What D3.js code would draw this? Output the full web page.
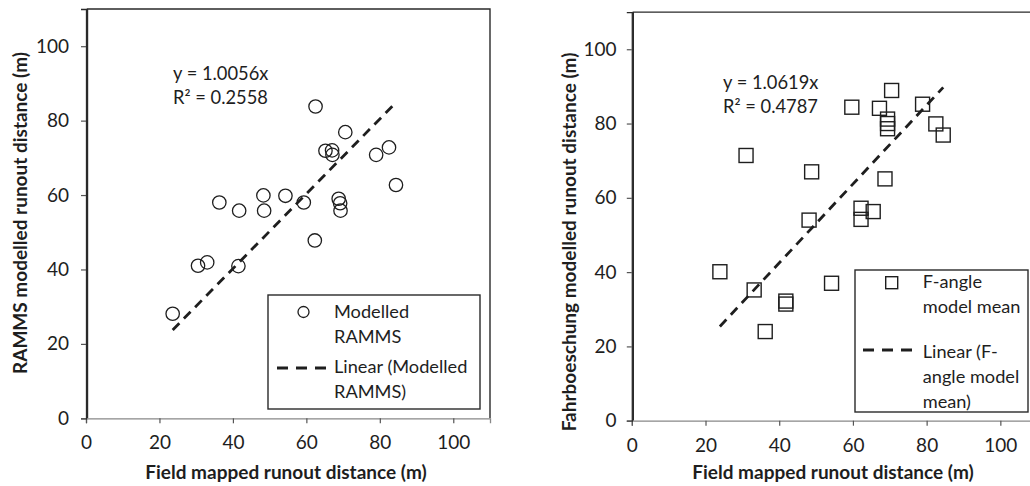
<!DOCTYPE html>
<html>
<head>
<meta charset="utf-8">
<script src="https://cdn.jsdelivr.net/npm/d3@7"></script>
<style>
  body { margin: 0; background: #fff; }
  svg text { font-family: Lato, "Open Sans", sans-serif; fill: #1e1e1e; }
  .tick text { font-size: 19px; }
  .tick line { stroke: #555; stroke-width: 1.2; }
</style>
</head>
<body>
<svg id="chart" width="1030" height="486"></svg>
<script>
// shared axis ticks
const tickValues = [0, 20, 40, 60, 80, 100];

// left panel: RAMMS vs field mapped
const rammsField = [23.6, 30.5, 33.0, 36.3, 41.7, 41.5, 48.3, 48.5, 54.3, 59.3, 62.5, 62.3, 65.2, 67.0, 67.1, 70.6, 68.8, 69.2, 69.3, 79.0, 82.5, 84.4];
const rammsModel = [28.1, 41.0, 41.9, 58.0, 55.8, 40.9, 59.9, 55.8, 59.8, 58.0, 83.8, 47.8, 71.9, 72.0, 70.8, 76.9, 59.0, 57.8, 55.8, 70.8, 72.8, 62.7];
const rammsSlope = 1.0056;
const rammsEq = ["y = 1.0056x", "R² = 0.2558"];
const rammsLegend = [["Modelled", "RAMMS"], ["Linear (Modelled", "RAMMS)"]];

// right panel: Fahrboeschung (F-angle) vs field mapped
const fangleField = [23.9, 31.0, 33.2, 36.2, 41.8, 41.8, 48.1, 48.8, 54.2, 59.7, 62.2, 62.2, 65.5, 67.2, 68.7, 69.4, 69.4, 69.4, 70.5, 78.9, 82.5, 84.5];
const fangleModel = [40.1, 71.4, 35.2, 24.0, 32.2, 31.4, 54.0, 67.0, 37.0, 84.4, 57.2, 54.2, 56.3, 84.1, 65.1, 81.2, 80.0, 78.6, 88.9, 85.2, 79.9, 76.9];
const fangleSlope = 1.0619;
const fangleEq = ["y = 1.0619x", "R² = 0.4787"];
const fangleLegend = [["F-angle", "model mean"], ["Linear (F-", "angle model", "mean)"]];

const xTitle = "Field mapped runout distance (m)";

const svg = d3.select("#chart");

function drawPanel(p) {
  const x = d3.scaleLinear().domain([0, 110]).range(p.xRange);
  const y = d3.scaleLinear().domain([0, 110]).range(p.yRange);
  const g = svg.append("g");

  // frame (left, top, right)
  g.append("path")
    .attr("d", `M${x(0) + 1.5},${y(0)}V${y(110)}H${x(110)}V${y(0)}`)
    .attr("fill", "none").attr("stroke", "#2a2a2a").attr("stroke-width", 1.4);

  // axes
  const xa = g.append("g").attr("transform", `translate(0,${y(0)})`)
    .call(d3.axisBottom(x).tickValues(tickValues).tickSize(5).tickPadding(p.xPad));
  const ya = g.append("g").attr("transform", `translate(${x(0)},0)`)
    .call(d3.axisLeft(y).tickValues(tickValues).tickSize(5).tickPadding(p.yPad));
  xa.select(".domain").attr("stroke", "#888").attr("stroke-width", 1.3);
  ya.select(".domain").attr("stroke", "#2a2a2a").attr("stroke-width", 1.3);

  // trend line through origin, over the range of the data
  const xe = d3.extent(p.xs);
  g.append("line")
    .attr("x1", x(xe[0])).attr("y1", y(xe[0] * p.slope))
    .attr("x2", x(xe[1])).attr("y2", y(xe[1] * p.slope))
    .attr("stroke", "#1e1e1e").attr("stroke-width", 2.8)
    .attr("stroke-dasharray", "9.5,6.5");

  // markers
  const pts = p.xs.map((v, i) => [v, p.ys[i]]);
  if (p.marker === "circle") {
    g.selectAll("circle.pt").data(pts).enter().append("circle")
      .attr("class", "pt")
      .attr("cx", d => x(d[0])).attr("cy", d => y(d[1])).attr("r", 6.7)
      .attr("fill", "none").attr("stroke", "#1e1e1e").attr("stroke-width", 1.3);
  } else {
    const s = 14;
    g.selectAll("rect.pt").data(pts).enter().append("rect")
      .attr("class", "pt")
      .attr("x", d => x(d[0]) - s / 2).attr("y", d => y(d[1]) - s / 2)
      .attr("width", s).attr("height", s)
      .attr("fill", "none").attr("stroke", "#1e1e1e").attr("stroke-width", 1.4);
  }

  // equation
  g.selectAll("text.eq").data(p.eq).enter().append("text")
    .attr("class", "eq")
    .attr("x", p.eqPos[0]).attr("y", (d, i) => p.eqPos[1] + i * 24)
    .style("font-size", "18.3px")
    .text(d => d);

  // axis titles
  g.append("text")
    .attr("x", p.xTitlePos[0]).attr("y", p.xTitlePos[1])
    .attr("text-anchor", "middle")
    .style("font-size", "19px").style("font-weight", "bold")
    .text(xTitle);
  g.append("text")
    .attr("transform", `translate(${p.yTitlePos[0]},${p.yTitlePos[1]}) rotate(-90)`)
    .attr("text-anchor", "middle")
    .style("font-size", "19px").style("font-weight", "bold")
    .text(p.yTitle);

  // legend
  const L = p.legend;
  g.append("rect")
    .attr("x", L.box[0]).attr("y", L.box[1])
    .attr("width", L.box[2] - L.box[0]).attr("height", L.box[3] - L.box[1])
    .attr("fill", "#fff").attr("stroke", "#2a2a2a").attr("stroke-width", 1.4);
  if (p.marker === "circle") {
    g.append("circle").attr("cx", L.marker[0]).attr("cy", L.marker[1]).attr("r", 5.5)
      .attr("fill", "none").attr("stroke", "#1e1e1e").attr("stroke-width", 1.3);
  } else {
    g.append("rect").attr("x", L.marker[0] - 6).attr("y", L.marker[1] - 6)
      .attr("width", 12).attr("height", 12)
      .attr("fill", "none").attr("stroke", "#1e1e1e").attr("stroke-width", 1.4);
  }
  g.append("line")
    .attr("x1", L.line[0]).attr("x2", L.line[1]).attr("y1", L.line[2]).attr("y2", L.line[2])
    .attr("stroke", "#1e1e1e").attr("stroke-width", 2.8).attr("stroke-dasharray", "11,8");
  L.rows.forEach((baseline, i) => {
    const lines = p.legendText[i];
    g.selectAll(null).data(lines).enter().append("text")
      .attr("x", L.textX).attr("y", (d, j) => baseline + j * 25)
      .style("font-size", "18.2px")
      .text(d => d);
  });

  g.selectAll(".tick text").attr("fill", "#1e1e1e");
}

drawPanel({
  xRange: [86, 490], yRange: [418.3, 9],
  xPad: 12.2, yPad: 12,
  xs: rammsField, ys: rammsModel, slope: rammsSlope, marker: "circle",
  eq: rammsEq, eqPos: [173, 80],
  xTitlePos: [286, 479], yTitlePos: [27, 213],
  yTitle: "RAMMS modelled runout distance (m)",
  legendText: rammsLegend,
  legend: { box: [268, 295, 480, 409], marker: [303.5, 312], line: [277, 330, 368], textX: 334, rows: [318, 373] }
});

drawPanel({
  xRange: [631.8, 1037.2], yRange: [420.7, 12.1],
  xPad: 12.8, yPad: 10.2,
  xs: fangleField, ys: fangleModel, slope: fangleSlope, marker: "square",
  eq: fangleEq, eqPos: [723, 89],
  xTitlePos: [833, 479], yTitlePos: [576, 242],
  yTitle: "Fahrboeschung modelled runout distance (m)",
  legendText: fangleLegend,
  legend: { box: [855, 270, 1028, 412], marker: [891.7, 282.7], line: [863, 917, 350], textX: 922.7, rows: [288, 358] }
});
</script>
</body>
</html>
